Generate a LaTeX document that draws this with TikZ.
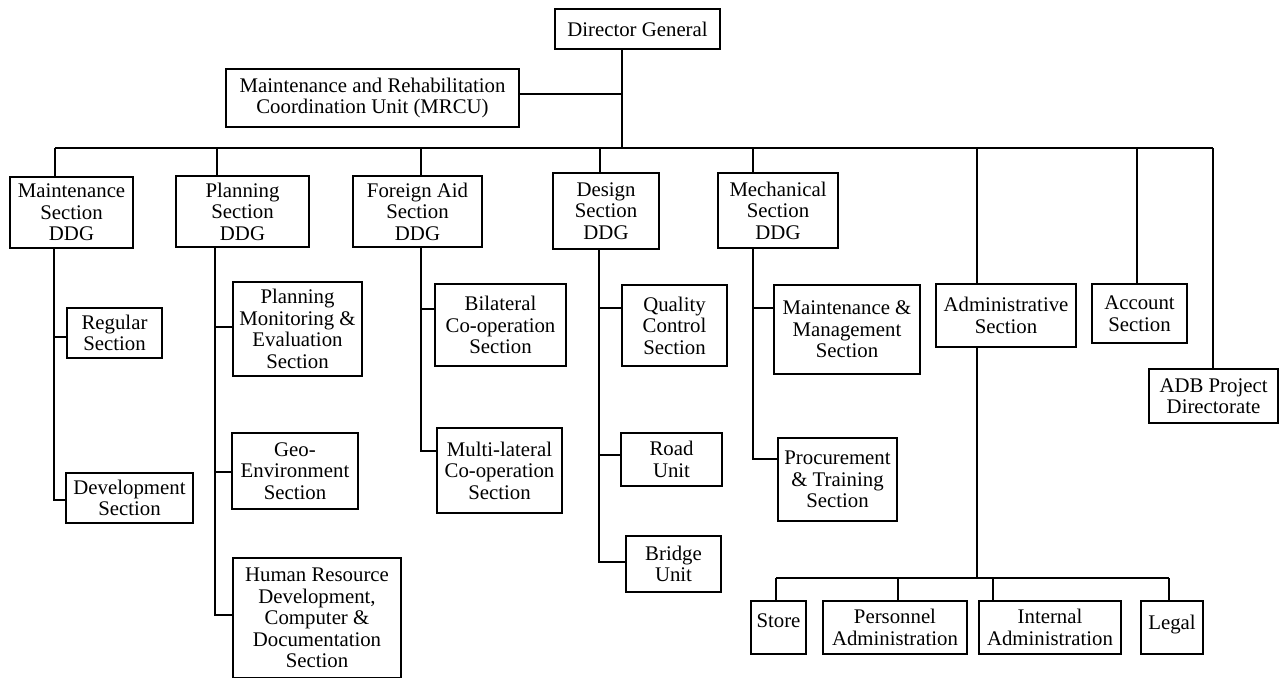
\documentclass[tikz,border=0pt]{standalone}
\usepackage{fontspec}
\setmainfont{Liberation Serif}
\begin{document}
\begin{tikzpicture}[x=1pt,y=-1pt,
  box/.style={draw, line width=1.3pt, inner sep=0pt, align=center,
    font=\fontsize{20.8}{21.5}\selectfont},
  link/.style={line width=1.2pt}]
\fill[white] (0,0) rectangle (1284,677);
\useasboundingbox (0,0) rectangle (1284,677);

% top level
\node[box, minimum width=165, minimum height=40] (dg) at (637.5,29) {Director General};
\node[box, minimum width=293, minimum height=58] (mrcu) at (372.5,98)
  {Maintenance and Rehabilitation\\Coordination Unit (MRCU)};

% sections
\node[box, minimum width=123, minimum height=71] (maint) at (71.5,212.5) {Maintenance\\Section\\DDG};
\node[box, minimum width=133, minimum height=71] (plan) at (242.5,211.5) {Planning\\Section\\DDG};
\node[box, minimum width=129, minimum height=71] (fa) at (417.5,211.5) {Foreign Aid\\Section\\DDG};
\node[box, minimum width=106, minimum height=76] (des) at (606,211) {Design\\Section\\DDG};
\node[box, minimum width=120, minimum height=75] (mech) at (778,210.5) {Mechanical\\Section\\DDG};
\node[box, minimum width=140, minimum height=63] (admin) at (1006,315.5) {Administrative\\Section};
\node[box, minimum width=95, minimum height=59] (acct) at (1139.5,313.5) {Account\\Section};
\node[box, minimum width=129, minimum height=54] (adb) at (1213.5,396) {ADB Project\\Directorate};

% units under the sections
\node[box, minimum width=95, minimum height=50] (reg) at (114.5,333) {Regular\\Section};
\node[box, minimum width=127, minimum height=50] (dev) at (129.5,498) {Development\\Section};
\node[box, minimum width=129, minimum height=94] (pme) at (297.5,329) {Planning\\Monitoring \&\\Evaluation\\Section};
\node[box, minimum width=126, minimum height=76] (geo) at (295,471) {Geo-\\Environment\\Section};
\node[box, minimum width=168, minimum height=120] (hrd) at (317,618) {Human Resource\\Development,\\Computer \&\\Documentation\\Section};
\node[box, minimum width=131, minimum height=82] (bil) at (500.5,325) {Bilateral\\Co-operation\\Section};
\node[box, minimum width=125, minimum height=85] (mul) at (499.5,470.5) {Multi-lateral\\Co-operation\\Section};
\node[box, minimum width=105, minimum height=81] (qc) at (674.5,325.5) {Quality\\Control\\Section};
\node[box, minimum width=101, minimum height=53] (road) at (671.5,459.5) {Road\\Unit};
\node[box, minimum width=95, minimum height=56] (bri) at (673.5,564) {Bridge\\Unit};
\node[box, minimum width=146, minimum height=89] (mm) at (847,329.5) {Maintenance \&\\Management\\Section};
\node[box, minimum width=119, minimum height=83] (proc) at (837.5,479.5) {Procurement\\\& Training\\Section};
\node[box, minimum width=55, minimum height=53] (store) at (778.5,627.5) {\raisebox{13pt}{Store}};
\node[box, minimum width=144, minimum height=53] (pers) at (895,627.5) {Personnel\\Administration};
\node[box, minimum width=142, minimum height=53] (inter) at (1050,627.5) {Internal\\Administration};
\node[box, minimum width=62, minimum height=53] (legal) at (1172,627.5) {\raisebox{11pt}{Legal}};

% junction points
\coordinate (hub) at (622,148);
\coordinate (mj) at (622,94);
\coordinate (busL) at (55,148);
\coordinate (busR) at (1213,148);
\coordinate (tPlan) at (217,148);
\coordinate (tFa) at (421,148);
\coordinate (tDes) at (600,148);
\coordinate (tMech) at (753,148);
\coordinate (tAdm) at (977,148);
\coordinate (tAcc) at (1137,148);

% director general and main bus
\draw[link] (dg.south -| hub) -- (hub);
\draw[link] (mrcu.east |- mj) -- (mj);
\draw[link] (busL) -- (busR);
\draw[link] (busL) -- (busL |- maint.north);
\draw[link] (tPlan) -- (tPlan |- plan.north);
\draw[link] (tFa) -- (tFa |- fa.north);
\draw[link] (tDes) -- (tDes |- des.north);
\draw[link] (tMech) -- (tMech |- mech.north);
\draw[link] (tAdm) -- (tAdm |- admin.north);
\draw[link] (tAcc) -- (tAcc |- acct.north);
\draw[link] (busR) -- (busR |- adb.north);

% maintenance section
\coordinate (m1) at (54,337);
\coordinate (m2) at (54,500);
\draw[link] (maint.south -| m1) -- (m2) -- (m2 -| dev.west);
\draw[link] (m1) -- (m1 -| reg.west);

% planning section
\coordinate (p1) at (215,327);
\coordinate (p2) at (215,472);
\coordinate (p3) at (215,615);
\draw[link] (plan.south -| p1) -- (p3) -- (p3 -| hrd.west);
\draw[link] (p1) -- (p1 -| pme.west);
\draw[link] (p2) -- (p2 -| geo.west);

% foreign aid section
\coordinate (f1) at (421,309);
\coordinate (f2) at (421,451);
\draw[link] (fa.south -| f1) -- (f2) -- (f2 -| mul.west);
\draw[link] (f1) -- (f1 -| bil.west);

% design section
\coordinate (d1) at (599,308);
\coordinate (d2) at (599,455);
\coordinate (d3) at (599,562);
\draw[link] (des.south -| d1) -- (d3) -- (d3 -| bri.west);
\draw[link] (d1) -- (d1 -| qc.west);
\draw[link] (d2) -- (d2 -| road.west);

% mechanical section
\coordinate (c1) at (753,308);
\coordinate (c2) at (753,459);
\draw[link] (mech.south -| c1) -- (c2) -- (c2 -| proc.west);
\draw[link] (c1) -- (c1 -| mm.west);

% administrative section
\coordinate (a0) at (977,578);
\coordinate (aL) at (776,578);
\coordinate (aP) at (898,578);
\coordinate (aI) at (993,578);
\coordinate (aR) at (1169,578);
\draw[link] (admin.south -| a0) -- (a0);
\draw[link] (aL) -- (aR);
\draw[link] (aL) -- (aL |- store.north);
\draw[link] (aP) -- (aP |- pers.north);
\draw[link] (aI) -- (aI |- inter.north);
\draw[link] (aR) -- (aR |- legal.north);
\end{tikzpicture}
\end{document}
